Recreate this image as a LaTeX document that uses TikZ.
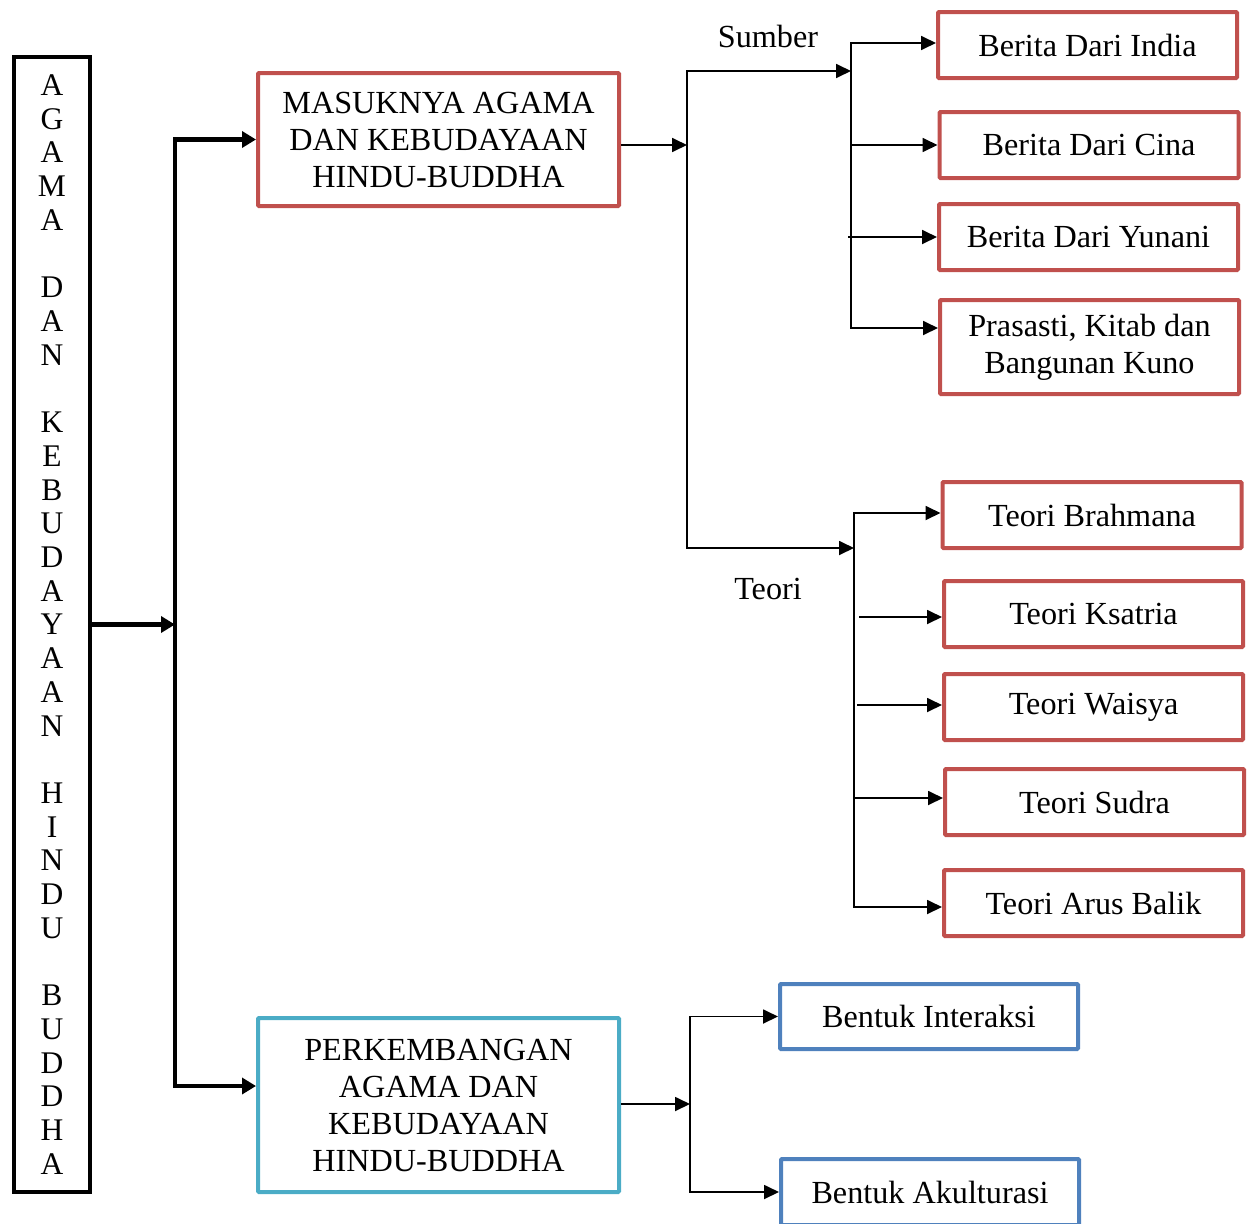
\documentclass[tikz,border=0pt]{standalone}
\usepackage{fontspec}
\setmainfont{Liberation Serif}
\usetikzlibrary{arrows.meta}
\definecolor{boxred}{HTML}{C0504D}
\definecolor{boxcyan}{HTML}{4BACC6}
\definecolor{boxblue}{HTML}{4F81BD}
\newcommand\dfont{\fontsize{32.2}{37}\selectfont}
\tikzset{
  every node/.style={font=\dfont},
  rbox/.style={draw=boxred,line width=4pt,minimum width=299pt,minimum height=66pt,align=center,rounded corners=1pt},
  cbox/.style={draw=boxcyan,line width=4pt,minimum width=361pt,align=center,rounded corners=1pt},
  bbox/.style={draw=boxblue,line width=4pt,minimum width=298pt,minimum height=66pt,align=center,rounded corners=1pt},
  thk/.style={line width=4.5pt},
  thn/.style={line width=1.8pt},
  thkarr/.style={thk,-{Triangle[length=14pt 0 0,width=16pt 0 0]}},
  thkboth/.style={thk,{Triangle[length=14pt 0 0,width=16pt 0 0]}-{Triangle[length=14pt 0 0,width=16pt 0 0]}},
  thnarr/.style={thn,-{Triangle[length=15pt 0 0,width=14pt 0 0]}},
  thnboth/.style={thn,{Triangle[length=15pt 0 0,width=14pt 0 0]}-{Triangle[length=15pt 0 0,width=14pt 0 0]}},
  lbl/.style={inner sep=0pt}
}
\begin{document}
\begin{tikzpicture}[x=1pt,y=-1pt]
\useasboundingbox (0,0) rectangle (1254,1224);
% main vertical box
\node[draw,line width=4.5pt,minimum width=76pt,minimum height=1135pt,inner sep=0pt,align=center,
      font=\fontsize{31.5}{33.72}\selectfont] (main) at (52,624.5)
  {A\\G\\A\\M\\A\\~\\D\\A\\N\\~\\K\\E\\B\\U\\D\\A\\Y\\A\\A\\N\\~\\H\\I\\N\\D\\U\\~\\B\\U\\D\\D\\H\\A};
% second level
\node[draw=boxred,line width=4pt,minimum width=361pt,minimum height=133pt,align=center,rounded corners=1pt] (masuk) at (438.5,139.5)
  {MASUKNYA AGAMA\\DAN KEBUDAYAAN\\HINDU-BUDDHA};
\node[cbox,minimum height=174pt] (perk) at (438.5,1105)
  {PERKEMBANGAN\\AGAMA DAN\\KEBUDAYAAN\\HINDU-BUDDHA};
% sumber boxes
\node[rbox] (india) at (1087.5,45) {Berita Dari India};
\node[rbox] (cina) at (1089,145) {Berita Dari Cina};
\node[rbox] (yunani) at (1088.5,237) {Berita Dari Yunani};
\node[rbox,minimum height=94pt] (prasasti) at (1089.5,347) {Prasasti, Kitab dan\\Bangunan Kuno};
% teori boxes
\node[rbox] (brahmana) at (1092,515) {Teori Brahmana};
\node[rbox] (ksatria) at (1093.5,614) {Teori Ksatria};
\node[rbox] (waisya) at (1093.5,707) {Teori Waisya};
\node[rbox] (sudra) at (1094.5,802) {Teori Sudra};
\node[rbox] (arus) at (1093.5,903) {Teori Arus Balik};
% bentuk boxes
\node[bbox,minimum height=65pt] (interaksi) at (929,1016.5) {Bentuk Interaksi};
\node[bbox] (akul) at (930,1192) {Bentuk Akulturasi};
% labels
\node[lbl] (sumber) at (768,36) {Sumber};
\node[lbl] (teori) at (768,589) {Teori};
% trunk
\coordinate (tA) at (175,139.5);
\coordinate (tB) at (175,1086);
\coordinate (tM) at (175,624.5);
\draw[thkarr] (main.east) -- (tM);
\draw[thkboth] (masuk.west) -- (tA) -- (tB) -- (perk.west |- tB);
% masuk -> split
\coordinate (j1) at (687,145);
\coordinate (j1t) at (687,71);
\coordinate (j1b) at (687,548);
\coordinate (s1) at (851,43);
\coordinate (s2) at (851,328);
\coordinate (t1) at (854,513);
\coordinate (t2) at (854,907);
\draw[thnarr] (masuk.east |- j1) -- (j1);
\draw[thnboth] (s1 |- j1t) -- (j1t) -- (j1b) -- (t1 |- j1b);
% sumber bus
\draw[thnboth] (india.west |- s1) -- (s1) -- (s2) -- (prasasti.west |- s2);
\draw[thnarr] (s1 |- cina.west) -- (cina.west);
\draw[thnarr] ([xshift=-3pt]s1 |- yunani.west) -- (yunani.west);
% teori bus
\draw[thnboth] (brahmana.west |- t1) -- (t1) -- (t2) -- (arus.west |- t2);
\draw[thnarr] ([xshift=5pt,yshift=-3pt]t1 |- ksatria.west) -- ([yshift=-3pt]ksatria.west);
\draw[thnarr] ([xshift=3pt,yshift=2pt]t1 |- waisya.west) -- ([yshift=2pt]waisya.west);
\draw[thnarr] ([yshift=4pt]t1 |- sudra.west) -- ([yshift=4pt]sudra.west);
% bentuk
\coordinate (j2) at (690,1104);
\coordinate (j2t) at (690,1016.5);
\coordinate (j2b) at (690,1192);
\draw[thnarr] (perk.east |- j2) -- (j2);
\draw[thnboth] (interaksi.west) -- (j2t) -- (j2b) -- (akul.west);
\end{tikzpicture}
\end{document}
